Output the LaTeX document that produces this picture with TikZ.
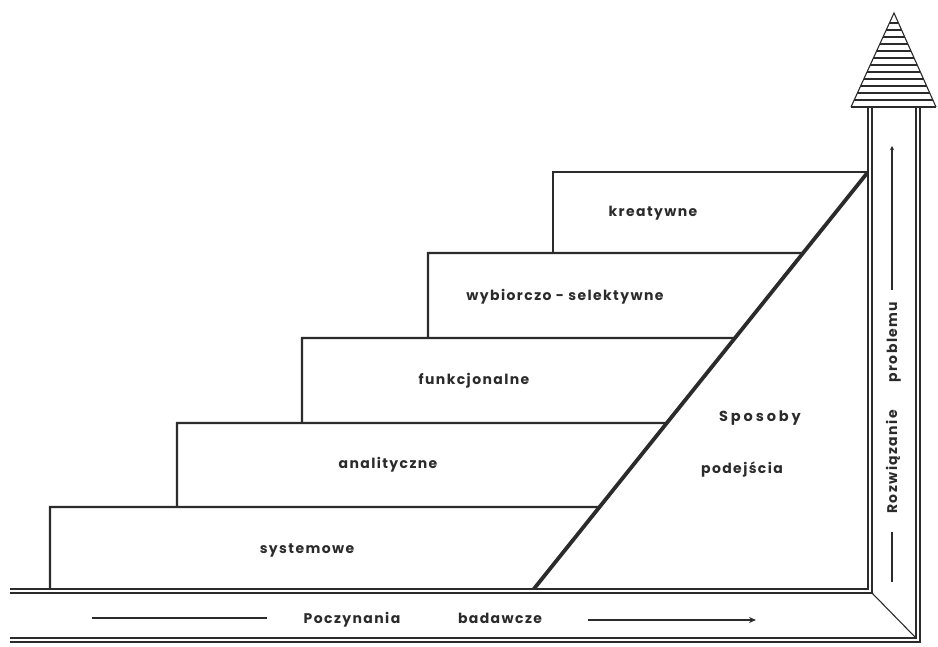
\documentclass[tikz,border=0pt]{standalone}
\usepackage{fontspec}
\setmainfont{Poppins}[LetterSpace=10]
\newfontfamily\widefont{Poppins}[LetterSpace=20]
\usetikzlibrary{arrows.meta,calc}
\definecolor{ink}{HTML}{2B2B2B}
\begin{document}
\begin{tikzpicture}[x=1pt,y=-1pt,
  stair/.style={draw=ink,line width=2.3pt,line join=miter},
  slope/.style={draw=ink,line width=3.8pt},
  chan/.style={draw=ink,line width=1.8pt,double=white,double distance=1.5pt},
  thinline/.style={draw=ink,line width=1.1pt},
  flow/.style={draw=ink,line width=1.7pt},
  lbl/.style={text=ink,inner sep=0pt,font=\fontsize{14}{16}\selectfont\bfseries},
]
\useasboundingbox (0,0) rectangle (938,646);

% the slope that cuts every step
\coordinate (d0) at (533,590);
\coordinate (d1) at (868,172);

% steps, from the lowest to the highest
\draw[stair] (50,590) -- (50,507) -- ($(d0)!{83/418}!(d1)$);
\draw[stair] (177,507) -- (177,423) -- ($(d0)!{167/418}!(d1)$);
\draw[stair] (302,423) -- (302,338) -- ($(d0)!{252/418}!(d1)$);
\draw[stair] (428,338) -- (428,253) -- ($(d0)!{337/418}!(d1)$);
\draw[stair] (553,253) -- (553,172) -- (d1);
\draw[slope] (d0) -- (d1);

% L-shaped channel
\draw[chan] (10,591) -- (870,591) -- (870,107);
\draw[chan] (10,640) -- (918,640) -- (918,107);
\draw[thinline] (872,593) -- (916,638);

% arrow head at the top of the channel
\coordinate (tl) at (851,107);
\coordinate (tr) at (936,107);
\coordinate (tp) at (894,13);
\begin{scope}
  \clip (tl) -- (tp) -- (tr) -- cycle;
  \foreach \yy in {23,30,...,101}
    \draw[ink,line width=1.4pt] (840,\yy) -- (940,\yy);
\end{scope}
\draw[thinline,line join=miter] (tl) -- (tp) -- (tr);
\draw[ink,line width=2.8pt] (tl) -- (tr);

% step labels
\node[lbl] (kre) at (653,213) {kreatywne};
\node[lbl] (wyb) at (565,297) {wybiorczo - selektywne};
\node[lbl] (fun) at (474,381) {funkcjonalne};
\node[lbl] (ana) at (388,465) {analityczne};
\node[lbl] (sys) at (307,550) {systemowe};
\node[lbl,font=\fontsize{14.5}{16}\selectfont\widefont\bfseries] (spo) at (760,418) {Sposoby};
\node[lbl] (pod) at (742,470) {podejścia};

% horizontal flow
\node[lbl,anchor=base] (pocz) at (352,623) {Poczynania};
\node[lbl,anchor=base] (bada) at (500,623) {badawcze};
\draw[flow] (92,618) -- (267,618);
\draw[flow,-{Stealth[length=7pt,width=6pt]}] (588,620) -- (756,620);

% vertical flow
\node[lbl,rotate=90,anchor=base] (rozw) at (897,462) {Rozwiązanie};
\node[lbl,rotate=90,anchor=base] (prob) at (897,342) {problemu};
\draw[flow] (892,582) -- (892,532);
\draw[flow,-{Stealth[length=4pt,width=4pt]}] (892,290) -- (892,146);
\end{tikzpicture}
\end{document}
